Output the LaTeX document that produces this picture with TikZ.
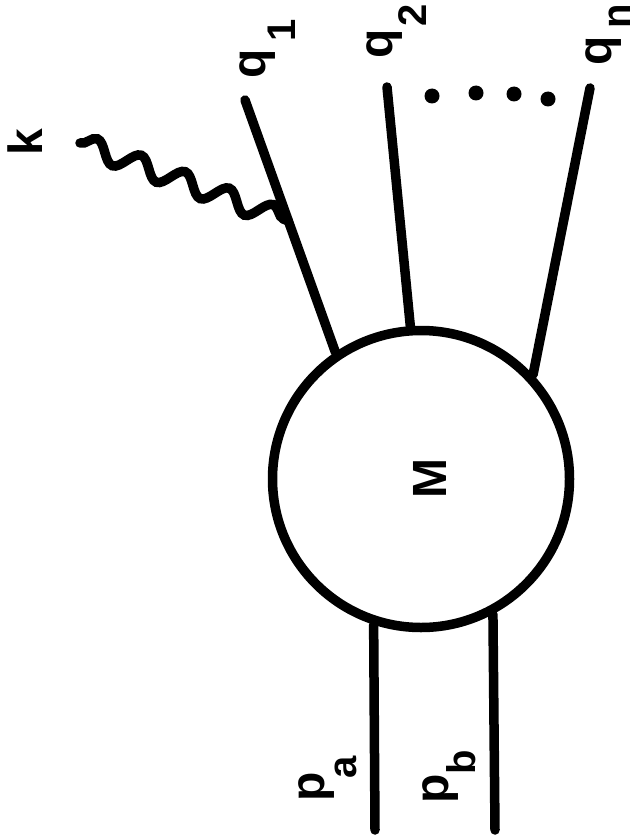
\documentclass[tikz,border=0pt]{standalone}
\usepackage{fontspec}
\setmainfont{Liberation Sans}
\usetikzlibrary{decorations.pathmorphing,calc}
\newcommand\mainsz{\fontsize{48}{48}\selectfont\bfseries}
\newcommand\subsz{\fontsize{40}{40}\selectfont\bfseries}
\begin{document}
\begin{tikzpicture}[x=1pt,y=-1pt,
  leg/.style={line width=9.5pt, line cap=round},
  txt/.style={rotate=90, inner sep=0pt, outer sep=0pt, anchor=center, font=\mainsz},
  sub/.style={rotate=90, inner sep=0pt, outer sep=0pt, anchor=center, font=\subsz}]
\useasboundingbox (0,0) rectangle (638,840);
% blob
\node[circle, draw, line width=9.5pt, minimum size=297pt, inner sep=0pt] (M) at (421,479) {};
\node[txt] (Mlab) at (429.5,479) {M};
% outer ends
\coordinate (q1e) at (245,100);
\coordinate (q2e) at (387,87);
\coordinate (qne) at (590,88);
\coordinate (pae) at (375,830);
\coordinate (pbe) at (495,830);
\draw[leg] (M.124) -- (q1e);
\draw[leg] (M.94) -- (q2e);
\draw[leg] (M.43) -- (qne);
\draw[leg] (M.-108) -- (pae);
\draw[leg] (M.-62) -- (pbe);
% photon
\coordinate (v) at ($(M.124)!0.52!(q1e)$);
\coordinate (ke) at (80,143);
\draw[line width=9.5pt, line cap=round, decorate, decoration={snake, segment length=47pt, amplitude=10pt, post length=5pt}] (ke) -- (v);
% dots
\foreach \p [count=\i] in {(432,96),(476,93),(514,94),(548,99)}
  \fill \p circle (7.5pt);
% labels
\node[txt] (k) at (25,142.5) {k};
\node[txt] (q1) at (257.5,63.5) {q};
\node[sub] (q1s) at (282,30.5) {1};
\node[txt] (q2) at (385,44) {q};
\node[sub] (q2s) at (413,15) {2};
\node[txt] (qn) at (603.5,51) {q};
\node[sub] (qns) at (620,16) {n};
\node[txt] (pa) at (316.5,787) {p};
\node[sub] (pas) at (346,767.5) {a};
\node[txt] (pb) at (440.5,788.5) {p};
\node[sub] (pbs) at (461.5,762.5) {b};
\end{tikzpicture}
\end{document}
